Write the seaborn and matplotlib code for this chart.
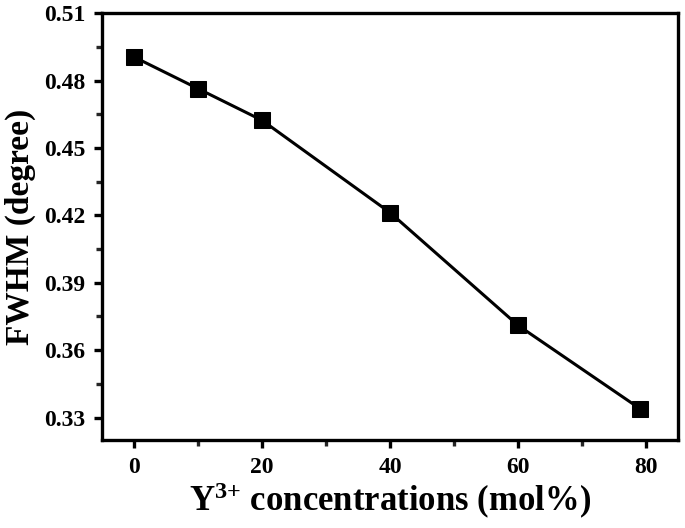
import matplotlib
matplotlib.use('Agg')
import matplotlib.pyplot as plt
from matplotlib.ticker import MultipleLocator
import seaborn as sns
import pandas as pd

# Data
concentration = [0, 10, 20, 40, 60, 79]
fwhm = [0.4905, 0.4764, 0.4623, 0.4212, 0.371, 0.334]

df = pd.DataFrame({'conc': concentration, 'fwhm': fwhm})

sns.set_style('ticks')
plt.rcParams['font.family'] = ['Liberation Serif', 'DejaVu Serif']
plt.rcParams['font.weight'] = 'bold'
plt.rcParams['text.color'] = 'black'
plt.rcParams['axes.labelcolor'] = 'black'
plt.rcParams['mathtext.fontset'] = 'custom'
plt.rcParams['mathtext.rm'] = 'Liberation Serif:bold'
plt.rcParams['mathtext.bf'] = 'Liberation Serif:bold'
plt.rcParams['mathtext.default'] = 'bf'

fig = plt.figure(figsize=(6.85, 5.28), dpi=100)
ax = fig.add_axes([0.149, 0.1667, 0.841, 0.8083])

sns.lineplot(data=df, x='conc', y='fwhm', ax=ax, color='black', linewidth=2.2,
             marker='s', markersize=11.5, markeredgecolor='black', markerfacecolor='black')

ax.set_xlim(-5, 85)
ax.set_ylim(0.32, 0.51)
ax.xaxis.set_major_locator(MultipleLocator(20))
ax.xaxis.set_minor_locator(MultipleLocator(10))
ax.yaxis.set_major_locator(MultipleLocator(0.03))
ax.yaxis.set_minor_locator(MultipleLocator(0.015))
ax.yaxis.set_major_formatter(plt.FormatStrFormatter('%.2f'))

for s in ax.spines.values():
    s.set_linewidth(2.4)
    s.set_color('black')
ax.tick_params(which='major', direction='out', length=6, width=2.4, labelsize=17,
               colors='black', pad=6)
ax.tick_params(which='minor', direction='out', length=4, width=2.4)
ax.tick_params(top=False, right=False, which='both')
for lab in ax.get_xticklabels() + ax.get_yticklabels():
    lab.set_fontweight('bold')

ax.set_xlabel(r'Y$^{3{+}}$ concentrations (mol%)', fontsize=25, fontweight='bold',
              color='black', labelpad=2)
ax.set_ylabel('FWHM (degree)', fontsize=24, fontweight='bold', color='black', labelpad=6)

fig.savefig('out.png', dpi=100)
